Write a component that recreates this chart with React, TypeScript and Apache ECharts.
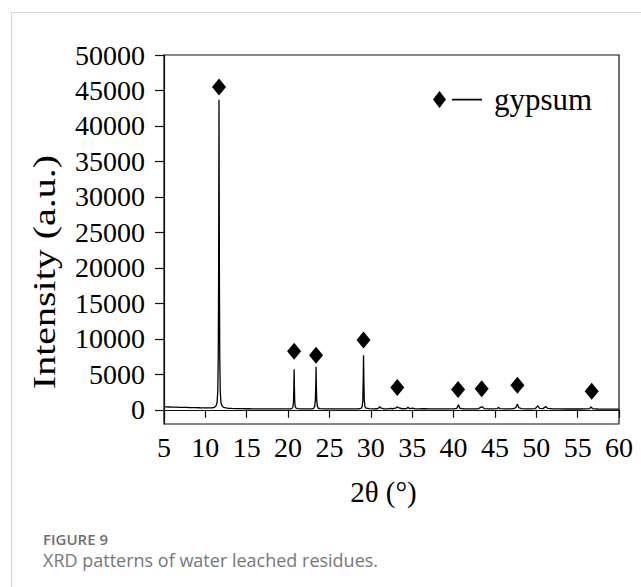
import React, { useEffect, useRef } from "react";
import * as echarts from "echarts";

// Diffraction trace: [2θ (°), intensity (a.u.)]
const pattern: [number, number][] = [
  [5.0, 420], [5.3, 405], [5.6, 395], [5.9, 385], [6.2, 372], [6.5, 365], [6.8, 352],
  [7.1, 345], [7.4, 338], [7.7, 330], [8.0, 322], [8.3, 316], [8.6, 305], [8.9, 298],
  [9.2, 292], [9.5, 285], [9.8, 278], [10.1, 272], [10.4, 268], [10.7, 270], [10.9, 290],
  [11.1, 360], [11.3, 560], [11.42, 1100], [11.5, 2600], [11.56, 7500], [11.6, 18000],
  [11.63, 33000], [11.65, 43700], [11.67, 33000], [11.7, 18000], [11.74, 7500],
  [11.8, 2600], [11.88, 1100], [12.0, 560], [12.2, 360], [12.5, 260], [12.8, 215],
  [13.2, 190], [13.6, 175], [14.0, 168], [14.5, 160], [15.0, 152], [15.5, 148],
  [16.0, 145], [16.5, 140], [17.0, 136], [17.5, 132], [18.0, 130], [18.5, 128],
  [19.0, 127], [19.5, 128], [20.0, 132], [20.3, 145], [20.5, 220], [20.6, 480],
  [20.66, 1300], [20.7, 3400], [20.73, 5700], [20.76, 3400], [20.8, 1300], [20.86, 480],
  [20.96, 230], [21.2, 160], [21.6, 140], [22.0, 135], [22.5, 132], [22.9, 140],
  [23.1, 210], [23.22, 480], [23.3, 1400], [23.35, 3600], [23.38, 6050], [23.41, 3600],
  [23.46, 1400], [23.54, 480], [23.65, 220], [23.9, 155], [24.4, 135], [25.0, 128],
  [25.5, 125], [26.0, 130], [26.5, 128], [27.0, 126], [27.5, 130], [28.0, 135],
  [28.5, 150], [28.8, 200], [28.95, 420], [29.03, 1300], [29.08, 4200], [29.12, 7700],
  [29.16, 4200], [29.21, 1300], [29.3, 420], [29.45, 220], [29.8, 160], [30.3, 140],
  [30.8, 150], [31.0, 300], [31.08, 470], [31.18, 260], [31.5, 150], [32.0, 145],
  [32.4, 200], [32.6, 150], [33.0, 230], [33.2, 430], [33.4, 260], [33.8, 150],
  [34.3, 160], [34.5, 350], [34.65, 180], [35.1, 240], [35.3, 140], [36.0, 150],
  [36.6, 180], [37.0, 135], [37.6, 130], [38.2, 125], [38.8, 128], [39.4, 125],
  [40.0, 135], [40.4, 210], [40.58, 700], [40.75, 220], [41.2, 140], [41.8, 128],
  [42.4, 125], [43.0, 140], [43.3, 380], [43.5, 400], [43.7, 170], [44.2, 130],
  [44.8, 125], [45.3, 170], [45.43, 350], [45.6, 160], [46.2, 128], [46.8, 130],
  [47.3, 160], [47.55, 350], [47.72, 800], [47.88, 300], [48.2, 180], [48.8, 140],
  [49.4, 130], [49.9, 180], [50.17, 560], [50.4, 200], [50.8, 170], [51.14, 450],
  [51.4, 190], [52.0, 130], [52.8, 120], [53.6, 115], [54.4, 118], [55.2, 112],
  [56.0, 118], [56.45, 180], [56.6, 400], [56.8, 180], [57.4, 115], [58.2, 110],
  [59.0, 108], [60.0, 105],
];

// Gypsum reflections and the height of each diamond marker
const gypsumTheta = [11.65, 20.73, 23.38, 29.12, 33.2, 40.55, 43.4, 47.72, 56.7];
const gypsumMarker = [45500, 8250, 7700, 9850, 3150, 2850, 2950, 3450, 2600];

const yTickValues = [0, 5000, 10000, 15000, 20000, 25000, 30000, 35000, 40000, 45000, 50000];

const serif = "'Liberation Serif', 'Times New Roman', serif";
const sans = "'Open Sans', 'Noto Sans', sans-serif";
const ink = "#111";

// Legend key: a diamond followed by a short dash
const legendIcon = "path://M6.5,0L13,8.5L6.5,17L0,8.5ZM19,7.8H49V9.4H19Z";

export default function App() {
  const ref = useRef<HTMLDivElement>(null);

  useEffect(() => {
    const chart = echarts.init(ref.current!, null, { renderer: "svg" });
    chart.setOption({
      animation: false,
      backgroundColor: "#fff",
      grid: {
        left: 164,
        right: 22,
        top: 55,
        bottom: 163,
        show: true,
        borderColor: ink,
        borderWidth: 1.2,
        backgroundColor: "transparent",
      },
      legend: {
        data: [{ name: "gypsum", icon: legendIcon }],
        left: 433,
        top: 84,
        padding: 0,
        itemWidth: 49,
        itemHeight: 17,
        textStyle: { fontSize: 31, fontFamily: serif, color: "#000", padding: [0, 0, 0, 7] },
      },
      xAxis: {
        type: "value",
        min: 5,
        max: 60,
        interval: 5,
        splitLine: { show: false },
        axisLine: { lineStyle: { color: ink, width: 1.2 } },
        axisTick: { length: 8, lineStyle: { color: ink, width: 1.2 } },
        axisLabel: { fontSize: 28, fontFamily: serif, color: "#000", margin: 9 },
        name: "2θ (°)",
        nameLocation: "middle",
        nameGap: 53,
        nameTextStyle: { fontSize: 29, fontFamily: serif, color: "#000", padding: [0, 16, 0, 0] },
      },
      yAxis: {
        type: "value",
        min: -2000,
        max: 50000,
        splitLine: { show: false },
        axisLine: { lineStyle: { color: ink, width: 1.2 } },
        axisTick: { length: 9, customValues: yTickValues, lineStyle: { color: ink, width: 1.2 } },
        axisLabel: {
          fontSize: 28,
          fontFamily: serif,
          color: "#000",
          margin: 19,
          customValues: yTickValues,
          formatter: (v: number) => String(v),
        },
      },
      graphic: [
        {
          type: "rect",
          silent: true,
          z: -10,
          shape: { x: 11.5, y: 12.5, width: 700, height: 700 },
          style: { fill: "none", stroke: "#d6d6d6", lineWidth: 1 },
        },
        {
          type: "text",
          x: 44.5,
          y: 272,
          rotation: Math.PI / 2,
          scaleX: 1.25,
          style: {
            text: "Intensity (a.u.)",
            fontSize: 32,
            fontWeight: "normal",
            fontFamily: serif,
            fill: "#000",
            align: "center",
            verticalAlign: "middle",
          },
        },
        {
          type: "text",
          left: 43,
          top: 530,
          style: {
            text: "FIGURE 9",
            fontSize: 15,
            lineHeight: 17,
            fontWeight: 600,
            fontFamily: sans,
            fill: "#6f6f6f",
          },
        },
        {
          type: "text",
          left: 43,
          top: 550,
          style: {
            text: "XRD patterns of water leached residues.",
            fontSize: 18,
            lineHeight: 20,
            fontFamily: sans,
            fill: "#777",
          },
        },
      ],
      series: [
        {
          type: "line",
          name: "pattern",
          data: pattern,
          symbol: "none",
          showSymbol: false,
          silent: true,
          lineStyle: { color: "#000", width: 1.3 },
          z: 2,
        },
        {
          type: "scatter",
          name: "gypsum",
          data: gypsumTheta.map((t, i) => [t, gypsumMarker[i]]),
          symbol: "diamond",
          symbolSize: [14, 17],
          itemStyle: { color: "#000", opacity: 1 },
          z: 3,
        },
      ],
    });
    return () => chart.dispose();
  }, []);

  return (
    <div
      ref={ref}
      style={{ position: "absolute", left: 0, top: 0, width: 641, height: 587, background: "#fff" }}
    />
  );
}
